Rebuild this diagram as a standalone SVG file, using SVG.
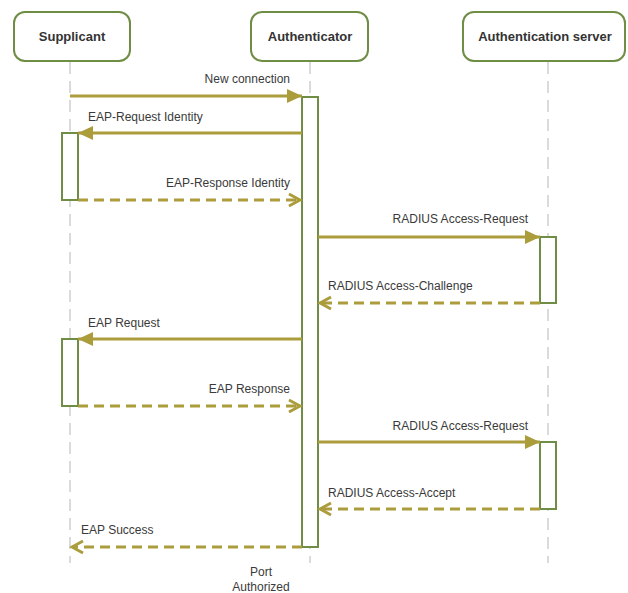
<svg xmlns="http://www.w3.org/2000/svg" width="628" height="593" viewBox="0 0 628 593">
  <style>
    .head { fill: #ffffff; stroke: #6f8d45; stroke-width: 2; }
    .head-text { font-family: "Liberation Sans", Arial, sans-serif; font-size: 13px; font-weight: bold; fill: #333333; text-anchor: middle; }
    .life { stroke: #d0d0d0; stroke-width: 1.5; stroke-dasharray: 12 7; fill: none; }
    .act { fill: #ffffff; stroke: #6f8d45; stroke-width: 2; }
    .msg { stroke: #ab9c3c; stroke-width: 3; fill: none; }
    .sync { marker-end: url(#filled); }
    .reply { stroke-dasharray: 10 6; marker-end: url(#open); }
    .label { font-family: "Liberation Sans", Arial, sans-serif; font-size: 12px; fill: #3a3a3a; }
    .end { text-anchor: end; }
    .mid { text-anchor: middle; }
  </style>
  <defs>
    <marker id="filled" markerUnits="userSpaceOnUse" markerWidth="16" markerHeight="14" refX="15" refY="7" orient="auto">
      <path d="M0,0 L15,7 L0,14 Z" fill="#ab9c3c"/>
    </marker>
    <marker id="open" markerUnits="userSpaceOnUse" markerWidth="16" markerHeight="16" refX="13" refY="8" orient="auto">
      <path d="M2,2 L13,8 L2,14" fill="none" stroke="#ab9c3c" stroke-width="3"/>
    </marker>
  </defs>

  <rect width="628" height="593" fill="#ffffff"/>

  <!-- lifelines -->
  <g id="lifelines">
    <line class="life" x1="70" y1="62" x2="70" y2="563"/>
    <line class="life" x1="310" y1="62" x2="310" y2="563"/>
    <line class="life" x1="548" y1="62" x2="548" y2="563"/>
  </g>

  <!-- participants -->
  <g id="supplicant">
    <rect class="head" x="14" y="12" width="116" height="49" rx="11"/>
    <text class="head-text" x="72" y="41">Supplicant</text>
  </g>
  <g id="authenticator">
    <rect class="head" x="251" y="12" width="117" height="49" rx="11"/>
    <text class="head-text" x="310" y="41">Authenticator</text>
  </g>
  <g id="auth-server">
    <rect class="head" x="463" y="12" width="162" height="49" rx="11"/>
    <text class="head-text" x="545" y="41">Authentication server</text>
  </g>

  <!-- activation bars -->
  <g id="activations">
    <rect class="act" x="302" y="97" width="16" height="450"/>
    <rect class="act" x="62" y="133" width="16" height="67"/>
    <rect class="act" x="540" y="237" width="16" height="66"/>
    <rect class="act" x="62" y="339" width="16" height="67"/>
    <rect class="act" x="540" y="442" width="16" height="67"/>
  </g>

  <!-- messages -->
  <g id="connectors">
    <line class="msg sync" x1="70" y1="96" x2="302" y2="96"/>
    <line class="msg sync" x1="302" y1="133" x2="78" y2="133"/>
    <line class="msg reply" x1="78" y1="200" x2="300" y2="200"/>
    <line class="msg sync" x1="318" y1="237" x2="540" y2="237"/>
    <line class="msg reply" x1="540" y1="303" x2="320" y2="303"/>
    <line class="msg sync" x1="302" y1="339" x2="78" y2="339"/>
    <line class="msg reply" x1="78" y1="406" x2="300" y2="406"/>
    <line class="msg sync" x1="318" y1="442" x2="540" y2="442"/>
    <line class="msg reply" x1="540" y1="509" x2="320" y2="509"/>
    <line class="msg reply" x1="302" y1="547" x2="72" y2="547"/>
  </g>

  <!-- message labels -->
  <g id="labels">
    <text class="label end" x="290" y="83">New connection</text>
    <text class="label" x="88" y="121">EAP-Request Identity</text>
    <text class="label end" x="290" y="187">EAP-Response Identity</text>
    <text class="label end" x="528" y="223">RADIUS Access-Request</text>
    <text class="label" x="328" y="290">RADIUS Access-Challenge</text>
    <text class="label" x="88" y="327">EAP Request</text>
    <text class="label end" x="290" y="393">EAP Response</text>
    <text class="label end" x="528" y="430">RADIUS Access-Request</text>
    <text class="label" x="328" y="497">RADIUS Access-Accept</text>
    <text class="label" x="81" y="534">EAP Success</text>
    <text class="label mid" x="261" y="576">Port</text>
    <text class="label mid" x="261" y="591">Authorized</text>
  </g>
</svg>
